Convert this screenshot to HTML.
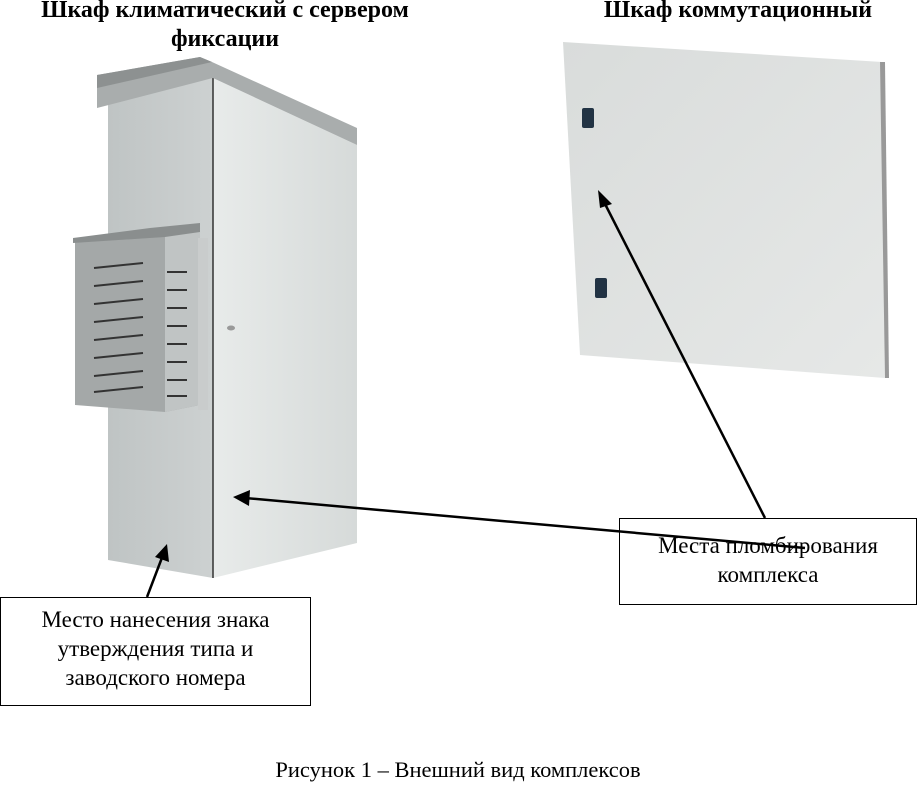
<!DOCTYPE html>
<html><head><meta charset="utf-8"><style>
body{margin:0;background:#fff;width:924px;height:785px;position:relative;overflow:hidden;font-family:"Liberation Serif",serif;}
.t{position:absolute;text-align:center;color:#000;white-space:nowrap}
.box{position:absolute;border:1px solid #000;background:#fff;text-align:center;font-size:23px;line-height:29px;white-space:nowrap}
</style></head><body>
<svg width="924" height="785" style="position:absolute;left:0;top:0">
<defs>
<linearGradient id="fr" x1="0" x2="1"><stop offset="0" stop-color="#e8ebea"/><stop offset="1" stop-color="#d6dad9"/></linearGradient>
<linearGradient id="sd" x1="0" x2="1"><stop offset="0" stop-color="#bfc4c4"/><stop offset="1" stop-color="#cdd1d1"/></linearGradient>
<linearGradient id="pn" x1="0" x2="1" y1="0" y2="1"><stop offset="0" stop-color="#d9dcdb"/><stop offset="1" stop-color="#e6e8e7"/></linearGradient>
</defs>
<polygon points="108,103 213,78 213,578 108,560" fill="url(#sd)"/>
<polygon points="213,78 357,145 357,543 213,578" fill="url(#fr)"/>
<line x1="213" y1="78" x2="213" y2="578" stroke="#333" stroke-width="1.5"/>
<polygon points="97,75 200,57 212,62 357,128 357,145 213,78 97,108" fill="#a9adad"/>
<polygon points="97,75 200,57 212,62 97,88" fill="#8d9191"/>
<polygon points="75,240 165,233 200,230 200,405 165,412 75,405" fill="#a4a8a8"/>
<polygon points="165,233 200,230 200,405 165,412" fill="#c0c4c4"/>
<polygon points="73,238 150,228 200,223 200,232 165,237 73,243" fill="#8a8e8e"/>
<rect x="198" y="238" width="10" height="172" fill="#c9cccc"/>
<g stroke="#333" stroke-width="2">
<line x1="94" y1="268" x2="143" y2="263"/><line x1="94" y1="286" x2="143" y2="281"/><line x1="94" y1="304" x2="143" y2="299"/><line x1="94" y1="322" x2="143" y2="317"/><line x1="94" y1="340" x2="143" y2="335"/><line x1="94" y1="358" x2="143" y2="353"/><line x1="94" y1="376" x2="143" y2="371"/><line x1="94" y1="392" x2="143" y2="387"/>
<line x1="167" y1="272" x2="187" y2="272"/><line x1="167" y1="290" x2="187" y2="290"/><line x1="167" y1="308" x2="187" y2="308"/><line x1="167" y1="326" x2="187" y2="326"/><line x1="167" y1="344" x2="187" y2="344"/><line x1="167" y1="362" x2="187" y2="362"/><line x1="167" y1="380" x2="187" y2="380"/><line x1="167" y1="396" x2="187" y2="396"/>
</g>
<ellipse cx="231" cy="328" rx="4" ry="2.5" fill="#999"/>
<polygon points="563,42 882,62 885,378 580,355" fill="url(#pn)"/>
<polygon points="880,62 885,62 889,378 885,378" fill="#999"/>
<rect x="582" y="108" width="12" height="20" rx="2" fill="#234"/>
<rect x="595" y="278" width="12" height="20" rx="2" fill="#234"/>
<g stroke="#000" stroke-width="2.5" fill="none">
<line x1="765" y1="518" x2="603" y2="200"/>
<line x1="805" y1="548" x2="245" y2="498"/>
<line x1="147" y1="597" x2="163" y2="555"/>
</g>
<polygon points="598,190 612,204 600,208" fill="#000"/>
<polygon points="233,497 250,490 249,506" fill="#000"/>
<polygon points="167,544 169,562 155,557" fill="#000"/>
</svg>
<div class="t" style="left:0;top:-4px;width:450px;font-weight:bold;font-size:24px;line-height:29px;white-space:normal">Шкаф климатический с сервером<br>фиксации</div>
<div class="t" style="left:538px;top:-4px;width:400px;font-weight:bold;font-size:24px;line-height:29px">Шкаф коммутационный</div>
<div class="box" style="left:619px;top:518px;width:296px;height:85px;background:transparent"><div style="padding-top:12px">Места пломбирования<br>комплекса</div></div>
<div class="box" style="left:0;top:597px;width:309px;height:107px"><div style="padding-top:7px">Место нанесения знака<br>утверждения типа и<br>заводского номера</div></div>
<div class="t" style="left:-4px;top:757px;width:924px;font-size:22.5px">Рисунок 1 – Внешний вид комплексов</div>
</body></html>
